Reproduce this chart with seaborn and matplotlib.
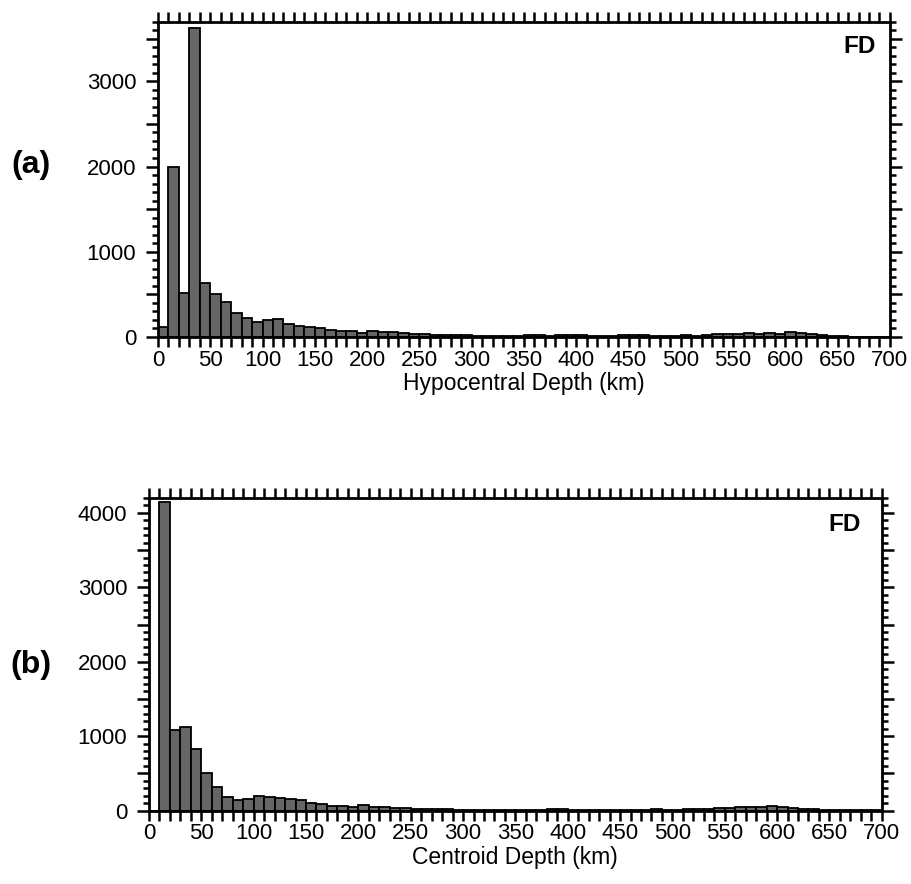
import numpy as np
import seaborn as sns
import matplotlib
matplotlib.use("Agg")
import matplotlib.pyplot as plt
from matplotlib.ticker import MultipleLocator, FuncFormatter

# bin edges every 10 km, 0 - 700
bin_edges = list(range(0, 710, 10))

# counts per 10 km bin
hypo_counts = [120, 1990, 520, 3630, 630, 510, 410, 280, 220, 180,
               200, 210, 150, 130, 120, 100, 85, 70, 65, 50,
               70, 60, 55, 45, 35, 35, 22, 25, 18, 18,
               12, 10, 10, 10, 12, 22, 22, 12, 18, 22,
               18, 12, 10, 12, 18, 18, 18, 12, 16, 16,
               27, 16, 27, 39, 35, 39, 43, 35, 51, 39,
               59, 43, 39, 27, 16, 8, 4, 3, 2, 2]

centroid_counts = [0, 4150, 1080, 1120, 825, 500, 310, 180, 135, 150,
                   190, 176, 170, 150, 135, 95, 85, 63, 63, 54,
                   68, 50, 50, 35, 32, 18, 18, 23, 18, 9,
                   9, 9, 9, 9, 9, 10, 12, 12, 23, 23,
                   12, 9, 9, 9, 9, 9, 9, 9, 18, 9,
                   9, 18, 18, 23, 32, 32, 41, 41, 50, 55,
                   45, 36, 27, 18, 9, 4, 2, 1, 1, 1]

bin_mid = [e + 5 for e in bin_edges[:-1]]

sns.set_style("ticks", {"text.color": "black", "axes.labelcolor": "black",
                        "xtick.color": "black", "ytick.color": "black",
                        "axes.edgecolor": "black"})
plt.rcParams["font.family"] = ["Liberation Sans", "DejaVu Sans"]

fig = plt.figure(figsize=(9.12, 8.84), dpi=100)
ax_a = fig.add_axes([0.1732, 0.6188, 0.8026, 0.3567])
ax_b = fig.add_axes([0.1634, 0.0831, 0.8034, 0.3535])

# axes, counts, y top, x label, FD position (axes fraction)
panels = [(ax_a, hypo_counts, 3700, "Hypocentral Depth (km)", (0.981, 0.92)),
          (ax_b, centroid_counts, 4200, "Centroid Depth (km)", (0.971, 0.915))]

for ax, counts, ytop, xlab, fd_pos in panels:
    sns.histplot(x=bin_mid, weights=counts, bins=bin_edges, ax=ax,
                 color="#666666", edgecolor="black", linewidth=1.3, alpha=1)
    ax.set_xlim(0, 700)
    ax.set_ylim(0, ytop)
    ax.set_ylabel("")
    ax.set_xlabel(xlab, fontsize=16.5, labelpad=1)
    for s in ax.spines.values():
        s.set_visible(True)
        s.set_linewidth(2)
        s.set_color("black")
    ax.xaxis.set_major_locator(MultipleLocator(50))
    ax.xaxis.set_minor_locator(MultipleLocator(10))
    ax.yaxis.set_major_locator(MultipleLocator(500))
    ax.yaxis.set_minor_locator(MultipleLocator(100))
    ax.yaxis.set_major_formatter(FuncFormatter(lambda v, p: "%d" % v if v % 1000 == 0 else ""))
    ax.tick_params(axis="both", which="both", direction="out", top=True, right=True,
                   width=1.8, colors="black")
    ax.tick_params(axis="x", which="both", length=7.2, labelsize=16, pad=2)
    ax.tick_params(axis="y", which="major", length=8.6, labelsize=16, pad=7)
    ax.tick_params(axis="y", which="minor", length=4.3)
    ax.text(fd_pos[0], fd_pos[1], "FD", transform=ax.transAxes, ha="right", va="center",
            fontsize=17.5, fontweight="bold", color="black")

fig.text(31 / 912, 1 - 165 / 884, "(a)", ha="center", va="center", fontsize=23,
         fontweight="bold", color="black")
fig.text(31 / 912, 1 - 665 / 884, "(b)", ha="center", va="center", fontsize=23,
         fontweight="bold", color="black")

fig.savefig("out.png", dpi=100)
